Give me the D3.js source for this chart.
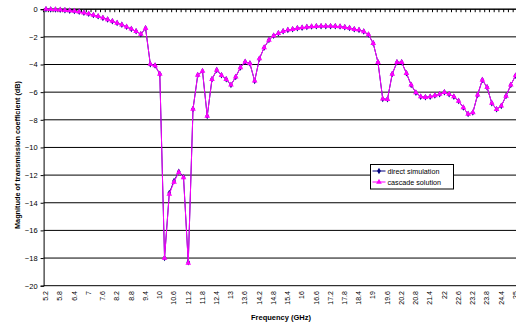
<!DOCTYPE html>
<html><head><meta charset="utf-8">
<script src="https://cdn.jsdelivr.net/npm/d3@7"></script>
<style>body{margin:0;background:#fff}svg{display:block}text{font-family:"Liberation Sans",Arial,sans-serif}</style>
</head><body><svg id="c" width="516" height="323"></svg>
<script>
const freq = ["5.2","5.4","5.6","5.8","6","6.2","6.4","6.6","6.8","7","7.2","7.4","7.6","7.8","8","8.2","8.4","8.6","8.8","9","9.2","9.4","9.6","9.8","10","10.2","10.4","10.6","10.8","11","11.2","11.4","11.6","11.8","12","12.2","12.4","12.6","12.8","13","13.2","13.4","13.6","13.8","14","14.2","14.4","14.6","14.8","15","15.2","15.4","15.6","15.8","16","16.2","16.4","16.6","16.8","17","17.2","17.4","17.6","17.8","18","18.2","18.4","18.6","18.8","19","19.2","19.4","19.6","19.8","20","20.2","20.4","20.6","20.8","21","21.2","21.4","21.6","21.8","22","22.2","22.4","22.6","22.8","23","23.2","23.4","23.6","23.8","24","24.2","24.4","24.6","24.8","25"];
const direct = [0,-0.02,-0.03,-0.05,-0.08,-0.11,-0.14,-0.19,-0.26,-0.34,-0.43,-0.52,-0.63,-0.75,-0.87,-1.0,-1.13,-1.28,-1.43,-1.6,-1.81,-1.38,-3.98,-4.08,-4.69,-18.0,-13.3,-12.42,-11.75,-12.15,-18.3,-7.22,-4.77,-4.48,-7.73,-5.07,-4.4,-4.78,-5.07,-5.48,-4.9,-4.22,-3.81,-3.93,-5.19,-3.58,-2.78,-2.23,-1.92,-1.74,-1.6,-1.5,-1.45,-1.38,-1.34,-1.29,-1.26,-1.24,-1.23,-1.23,-1.23,-1.24,-1.26,-1.31,-1.36,-1.45,-1.5,-1.62,-1.84,-2.47,-3.84,-6.49,-6.52,-4.69,-3.84,-3.84,-4.64,-5.48,-6.04,-6.33,-6.37,-6.33,-6.25,-6.15,-6.01,-6.15,-6.33,-6.64,-7.12,-7.58,-7.48,-6.2,-5.12,-5.65,-6.8,-7.24,-7.0,-6.28,-5.48,-4.81];
const cascade = [0,-0.02,-0.03,-0.05,-0.08,-0.11,-0.14,-0.19,-0.26,-0.34,-0.43,-0.52,-0.63,-0.75,-0.87,-1.0,-1.13,-1.28,-1.43,-1.6,-1.81,-1.38,-3.98,-4.08,-4.69,-18.0,-13.38,-12.5,-11.8,-12.18,-18.37,-7.22,-4.77,-4.48,-7.73,-5.07,-4.4,-4.78,-5.07,-5.48,-4.9,-4.22,-3.81,-3.93,-5.19,-3.58,-2.78,-2.23,-1.92,-1.74,-1.6,-1.5,-1.45,-1.38,-1.34,-1.29,-1.26,-1.24,-1.23,-1.23,-1.23,-1.24,-1.26,-1.31,-1.36,-1.45,-1.5,-1.62,-1.84,-2.47,-3.84,-6.49,-6.52,-4.69,-3.84,-3.84,-4.64,-5.48,-6.04,-6.33,-6.37,-6.33,-6.25,-6.15,-6.01,-6.15,-6.33,-6.64,-7.12,-7.58,-7.48,-6.2,-5.12,-5.65,-6.8,-7.24,-7.0,-6.28,-5.48,-4.81];
const yTicks = [0,-2,-4,-6,-8,-10,-12,-14,-16,-18,-20];
const seriesNames = ["direct simulation","cascade solution"];

const svg = d3.select("#c");
const L = 43.6, T = 9.2, B = 285.7;
const x = d3.scaleBand().domain(freq).range([L, L + 100 * 4.743]).padding(0);
const bw = x.bandwidth();
const cx = d => x(d) + bw / 2;
const y = d3.scaleLinear().domain([-20, 0]).range([B, T]);

// gridlines
svg.append("g").selectAll("line").data(yTicks).join("line")
  .attr("x1", L).attr("x2", 516).attr("y1", d => y(d)).attr("y2", d => y(d))
  .attr("stroke", "#000").attr("stroke-width", 1);

// y axis
const ya = svg.append("g").attr("transform", `translate(${L},0)`)
  .call(d3.axisLeft(y).tickValues(yTicks).tickSize(3).tickPadding(3).tickFormat(d3.format("d")));
ya.select(".domain").attr("stroke", "#000");
ya.selectAll("text").attr("font-size", 7.5).attr("fill", "#000");

// top category axis (ticks at category boundaries)
const ta = svg.append("g").attr("transform", `translate(${-bw/2},${y(0)})`)
  .call(d3.axisBottom(x).tickSize(3).tickFormat(""));
ta.select(".domain").remove();
ta.selectAll("line").attr("stroke", "#000");
svg.append("line").attr("x1", L).attr("x2", 516).attr("y1", y(0)).attr("y2", y(0)).attr("stroke", "#000");

// bottom labels
const ba = svg.append("g").attr("transform", `translate(0,${B + 4})`)
  .call(d3.axisBottom(x).tickValues(freq.filter((d, i) => i % 3 === 0)).tickSize(0).tickPadding(0));
ba.select(".domain").remove();
ba.selectAll("text").attr("font-size", 7).attr("fill", "#000")
  .attr("transform", "rotate(-90)").attr("text-anchor", "end").attr("x", 0).attr("y", 0).attr("dy", "0.32em").attr("dx", "-0.2em");

// axis titles
svg.append("text").attr("x", 281).attr("y", 319.5).attr("text-anchor", "middle")
  .attr("font-size", 7.5).attr("font-weight", "bold").text("Frequency (GHz)");
svg.append("text").attr("transform", "translate(19.5,155) rotate(-90)").attr("text-anchor", "middle")
  .attr("font-size", 7.3).attr("font-weight", "bold").text("Magnitude of transmission coefficient (dB)");

// series
const line = d3.line().x((d, i) => cx(freq[i])).y(d => y(d));
svg.append("path").datum(direct).attr("d", line).attr("fill", "none").attr("stroke", "#000080").attr("stroke-width", 1);
svg.append("g").selectAll("path").data(direct).join("path")
  .attr("transform", (d, i) => `translate(${cx(freq[i])},${y(d)})`)
  .attr("d", d3.symbol(d3.symbolDiamond, 12)).attr("fill", "#000080");
svg.append("path").datum(cascade).attr("d", line).attr("fill", "none").attr("stroke", "#FF00FF").attr("stroke-width", 1);
svg.append("g").selectAll("path").data(cascade).join("path")
  .attr("transform", (d, i) => `translate(${cx(freq[i])},${y(d)})`)
  .attr("d", d3.symbol(d3.symbolTriangle, 14)).attr("fill", "#FF00FF");

// legend
const lg = svg.append("g").attr("transform", "translate(370.5,164.5)");
lg.append("rect").attr("width", 83).attr("height", 24.5).attr("fill", "#fff").attr("stroke", "#000").attr("stroke-width", 1);
const cols = ["#000080", "#FF00FF"];
const syms = [d3.symbol(d3.symbolDiamond, 12), d3.symbol(d3.symbolTriangle, 14)];
seriesNames.forEach((n, k) => {
  const yy = 6.5 + k * 11;
  lg.append("line").attr("x1", 2).attr("x2", 15).attr("y1", yy).attr("y2", yy).attr("stroke", cols[k]);
  lg.append("path").attr("transform", `translate(8.5,${yy})`).attr("d", syms[k]()).attr("fill", cols[k]);
  lg.append("text").attr("x", 17).attr("y", yy).attr("dy", "0.35em").attr("font-size", 7.2).attr("fill", "#000").text(n);
});
</script></body></html>
